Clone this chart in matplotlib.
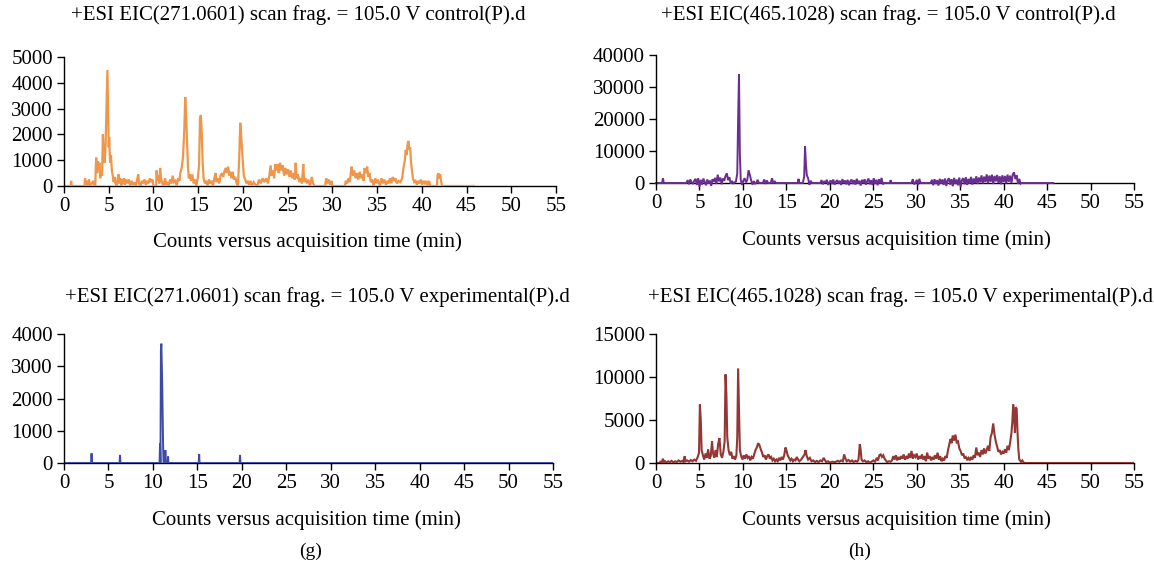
import matplotlib
matplotlib.use('Agg')
import matplotlib.pyplot as plt
import numpy as np

plt.rcParams['font.family'] = ['Liberation Serif', 'DejaVu Serif']

# (g) control, EIC 271.0601 -- (time min, counts)
g_control = [
    (0, 0), (0.75, 0), (0.8, 200), (0.85, 0), (2.3, 0), (2.35, 300), (2.45, 50), (2.55, 200),
    (2.65, 0), (2.8, 250), (2.9, 0), (3.3, 200), (3.35, 0), (3.5, 0), (3.55, 700), (3.6, 1100),
    (3.7, 500), (3.8, 950), (3.9, 600), (3.95, 900), (4.05, 300), (4.15, 600), (4.25, 400),
    (4.35, 2000), (4.45, 1200), (4.55, 900), (4.65, 1600), (4.75, 3000), (4.85, 4500),
    (4.95, 2500), (5.0, 1500), (5.05, 1900), (5.15, 900), (5.25, 1200), (5.35, 600), (5.45, 400),
    (5.55, 150), (5.65, 350), (5.75, 100), (5.9, 0), (6.0, 300), (6.1, 450), (6.2, 100),
    (6.3, 300), (6.4, 0), (6.5, 250), (6.6, 100), (6.7, 300), (6.8, 50), (6.95, 250), (7.1, 100),
    (7.25, 250), (7.4, 0), (7.55, 200), (7.7, 50), (7.85, 150), (8.0, 0), (8.15, 200), (8.3, 450),
    (8.4, 100), (8.55, 0), (8.7, 200), (8.85, 100), (9.0, 250), (9.15, 50), (9.3, 200),
    (9.45, 100), (9.6, 300), (9.75, 150), (9.9, 250), (10.0, 0), (10.3, 0), (10.35, 600),
    (10.45, 200), (10.55, 400), (10.65, 100), (10.75, 700), (10.85, 300), (10.95, 150),
    (11.1, 0), (11.3, 300), (11.4, 50), (11.55, 150), (11.7, 0), (11.85, 250), (12.0, 100),
    (12.15, 400), (12.3, 150), (12.45, 200), (12.6, 0), (12.75, 300), (12.9, 200), (13.0, 500),
    (13.15, 700), (13.3, 1100), (13.45, 2200), (13.55, 3450), (13.65, 2800), (13.75, 1800),
    (13.85, 800), (13.95, 300), (14.05, 450), (14.2, 200), (14.35, 450), (14.5, 100),
    (14.65, 250), (14.8, 0), (14.95, 300), (15.1, 800), (15.2, 2600), (15.3, 2750), (15.4, 2000),
    (15.5, 900), (15.6, 300), (15.75, 100), (15.9, 200), (16.05, 0), (16.2, 250), (16.35, 100),
    (16.5, 200), (16.65, 0), (16.8, 300), (16.95, 500), (17.05, 150), (17.2, 300), (17.35, 100),
    (17.5, 400), (17.65, 500), (17.8, 350), (17.95, 600), (18.1, 700), (18.2, 500), (18.35, 750),
    (18.5, 400), (18.6, 550), (18.75, 300), (18.85, 550), (19.0, 250), (19.15, 350), (19.3, 100),
    (19.45, 0), (19.6, 1200), (19.7, 2450), (19.8, 2000), (19.9, 1400), (20.0, 900), (20.1, 400),
    (20.25, 250), (20.4, 100), (20.55, 200), (20.7, 50), (20.85, 200), (21.0, 0), (21.2, 150),
    (21.4, 50), (21.6, 0), (21.8, 250), (22.0, 100), (22.2, 300), (22.4, 150), (22.6, 300),
    (22.8, 100), (22.95, 400), (23.1, 800), (23.2, 400), (23.35, 600), (23.5, 300), (23.6, 850),
    (23.75, 600), (23.9, 850), (24.0, 500), (24.15, 900), (24.3, 600), (24.45, 800), (24.6, 400),
    (24.75, 700), (24.9, 450), (25.05, 650), (25.2, 350), (25.35, 600), (25.5, 300), (25.65, 500),
    (25.8, 250), (25.9, 900), (26.0, 300), (26.15, 450), (26.3, 150), (26.45, 300), (26.6, 100),
    (26.75, 850), (26.85, 150), (27.0, 300), (27.15, 100), (27.3, 250), (27.5, 0), (27.7, 350),
    (27.85, 100), (28.0, 0), (29.2, 0), (29.3, 300), (29.45, 100), (29.6, 250), (29.75, 50),
    (29.9, 200), (30.0, 0), (31.4, 0), (31.5, 200), (31.65, 100), (31.8, 300), (31.95, 150),
    (32.05, 500), (32.15, 750), (32.3, 400), (32.45, 600), (32.6, 300), (32.75, 500), (32.9, 250),
    (33.05, 550), (33.2, 300), (33.35, 450), (33.5, 200), (33.6, 700), (33.75, 500), (33.9, 750),
    (34.0, 350), (34.15, 500), (34.3, 150), (34.45, 250), (34.6, 0), (34.8, 300), (34.95, 100),
    (35.1, 250), (35.3, 0), (35.5, 300), (35.65, 100), (35.8, 250), (36.0, 50), (36.15, 200),
    (36.3, 100), (36.45, 300), (36.6, 100), (36.75, 350), (36.9, 200), (37.05, 300), (37.2, 100),
    (37.4, 200), (37.6, 150), (37.8, 300), (37.95, 700), (38.1, 1000), (38.2, 1400), (38.3, 1200),
    (38.4, 1600), (38.5, 1750), (38.6, 1400), (38.7, 1500), (38.8, 900), (38.9, 600), (39.0, 300),
    (39.15, 150), (39.3, 200), (39.45, 50), (39.6, 200), (39.75, 100), (39.9, 250), (40.05, 50),
    (40.2, 200), (40.35, 100), (40.5, 200), (40.65, 0), (40.8, 200), (40.95, 0), (41.7, 0),
    (41.75, 400), (41.85, 500), (41.95, 300), (42.05, 450), (42.15, 200), (42.25, 0), (45.8, 0),
]

# (h) control, EIC 465.1028
h_control = [
    (0, 0), (0.7, 0), (0.8, 1500), (0.9, 0), (3.5, 0),
    (3.65, 900), (3.8, -400), (3.95, 1100), (4.1, 200), (4.25, -300), (4.4, 700), (4.55, 1300),
    (4.7, -600), (4.85, 1500), (5.0, -1200), (5.15, 1000), (5.3, -500), (5.45, 1400), (5.6, 300),
    (5.75, -700), (5.9, 1100), (6.05, -200), (6.2, 800), (6.35, -900), (6.5, 1200), (6.65, 400),
    (6.8, 1600), (6.95, -300), (7.1, 2600), (7.25, 500), (7.4, 1700), (7.55, -400), (7.7, 1400),
    (7.85, 700), (8.0, 2200), (8.15, 3000), (8.3, 900), (8.45, 1800), (8.6, -200), (8.75, 600),
    (8.9, -100), (9.05, 200), (9.2, 500), (9.35, 3000), (9.45, 20000), (9.55, 34000),
    (9.65, 9000), (9.75, 1000), (9.9, -600), (10.05, 800), (10.2, 1500), (10.35, 200),
    (10.5, 900), (10.65, 4000), (10.8, 2500), (10.95, 800), (11.1, -500), (11.25, 600),
    (11.4, -200), (11.55, 0), (11.7, 1000), (11.85, 0), (12.3, 0), (12.45, 1100), (12.6, -300),
    (12.75, 800), (12.9, 0), (13.2, 0), (13.35, 1500), (13.5, -200), (13.65, 600), (13.8, 0),
    (16.3, 0), (16.4, 1300), (16.5, 0), (16.9, 0), (17.05, 2000), (17.15, 11500), (17.25, 6000),
    (17.35, 2500), (17.5, 1500), (17.65, -600), (17.8, 700), (17.95, 0), (18.9, 0),
    (19.05, 900), (19.2, -400), (19.35, 600), (19.5, 0), (19.65, 1000), (19.8, -600),
    (19.95, 300), (20.1, 800), (20.25, -300), (20.4, 1100), (20.55, -500), (20.7, 400),
    (20.85, 900), (21.0, -200), (21.15, 700), (21.3, -600), (21.45, 1200), (21.6, -100),
    (21.75, 800), (21.9, -400), (22.05, 1000), (22.2, -700), (22.35, 500), (22.5, 1100),
    (22.65, -300), (22.8, 900), (22.95, -500), (23.1, 1300), (23.25, -200), (23.4, 700),
    (23.55, -800), (23.7, 1000), (23.85, -100), (24.0, 1200), (24.15, -500), (24.3, 600),
    (24.45, 1400), (24.6, -400), (24.75, 900), (24.9, -600), (25.05, 1500), (25.2, -300),
    (25.35, 1000), (25.5, -700), (25.65, 1200), (25.8, -200), (25.95, 1600), (26.1, -400),
    (26.25, 0), (26.9, 0), (27.0, 900), (27.1, 0), (29.4, 0), (29.55, 1200), (29.7, -400),
    (29.85, 0), (30.0, 1000), (30.15, -600), (30.3, 1300), (30.45, 0), (31.6, 0),
    (31.75, 1000), (31.9, -700), (32.05, 1200), (32.2, -300), (32.35, 900), (32.5, -800),
    (32.65, 1300), (32.8, -200), (32.95, 1100), (33.1, -600), (33.25, 1400), (33.4, -900),
    (33.55, 800), (33.7, 1500), (33.85, -500), (34.0, 1200), (34.15, -1000), (34.3, 1600),
    (34.45, -300), (34.6, 1100), (34.75, -700), (34.9, 1700), (35.05, -1200), (35.2, 900),
    (35.35, 1500), (35.5, -400), (35.65, 1800), (35.8, -600), (35.95, 1300), (36.1, -200),
    (36.25, 1900), (36.4, -500), (36.55, 1400), (36.7, -100), (36.85, 2100), (37.0, -300),
    (37.15, 1700), (37.3, 200), (37.45, 2400), (37.6, -200), (37.75, 2000), (37.9, 300),
    (38.05, 2700), (38.2, -100), (38.35, 2300), (38.5, 400), (38.65, 2600), (38.8, -300),
    (38.95, 2200), (39.1, 500), (39.25, 2500), (39.4, 0), (39.55, 2100), (39.7, -400),
    (39.85, 2400), (40.0, 300), (40.15, 2200), (40.3, -200), (40.45, 2600), (40.6, 400),
    (40.75, 2300), (40.9, -100), (41.05, 2700), (41.2, 3300), (41.35, 1200), (41.5, 2400),
    (41.65, -300), (41.8, 1300), (41.95, -200), (42.05, 0), (45.7, 0),
]

# (g) experimental, EIC 271.0601
g_experimental = [
    (0, 0), (3.05, 0), (3.1, 300), (3.15, 0), (6.25, 0), (6.3, 250), (6.35, 0), (10.75, 0),
    (10.8, 600), (10.85, 0), (10.9, 3500), (10.95, 3700), (11.05, 2400), (11.15, 500),
    (11.2, 0), (11.35, 0), (11.4, 400), (11.45, 0), (11.65, 0), (11.7, 200), (11.75, 0),
    (15.15, 0), (15.2, 280), (15.25, 0), (19.75, 0), (19.8, 250), (19.85, 0), (55, 0),
]

# (h) experimental, EIC 465.1028
h_experimental = [
    (0, 0), (0.4, 0), (0.5, 150), (0.65, 50), (0.8, 500), (0.9, 100), (1.05, 200), (1.2, 50),
    (1.4, 200), (1.6, 100), (1.8, 250), (2.0, 50), (2.2, 200), (2.4, 100), (2.6, 300), (2.8, 150),
    (3.0, 250), (3.15, 100), (3.3, 800), (3.4, 200), (3.6, 300), (3.8, 150), (4.0, 350),
    (4.2, 200), (4.4, 400), (4.6, 250), (4.8, 700), (4.95, 1200), (5.05, 6800), (5.15, 5000),
    (5.25, 1500), (5.4, 900), (5.55, 400), (5.7, 1100), (5.85, 600), (6.0, 1600), (6.15, 500),
    (6.3, 800), (6.45, 2500), (6.55, 1200), (6.7, 600), (6.85, 1500), (7.0, 700), (7.15, 2200),
    (7.3, 2900), (7.45, 1000), (7.6, 600), (7.75, 1300), (7.9, 2500), (8.0, 10300), (8.1, 8000),
    (8.2, 3000), (8.35, 1500), (8.5, 900), (8.65, 1300), (8.8, 500), (8.95, 800), (9.1, 400),
    (9.25, 900), (9.35, 3000), (9.45, 11000), (9.55, 6000), (9.65, 1500), (9.8, 800),
    (9.95, 400), (10.1, 900), (10.25, 500), (10.4, 1000), (10.55, 600), (10.7, 800),
    (10.85, 300), (11.0, 700), (11.15, 500), (11.3, 1000), (11.45, 1500), (11.6, 1800),
    (11.75, 2300), (11.9, 2100), (12.05, 1600), (12.2, 1200), (12.35, 700), (12.5, 900),
    (12.65, 400), (12.8, 800), (12.95, 1000), (13.1, 500), (13.25, 700), (13.4, 300),
    (13.55, 500), (13.7, 200), (13.85, 400), (14.0, 200), (14.15, 600), (14.3, 300),
    (14.45, 700), (14.6, 400), (14.75, 900), (14.9, 1800), (15.0, 1500), (15.15, 900),
    (15.3, 600), (15.45, 300), (15.6, 500), (15.75, 200), (15.9, 400), (16.05, 300),
    (16.2, 700), (16.35, 400), (16.5, 200), (16.7, 400), (16.9, 700), (17.1, 1000), (17.2, 1500),
    (17.35, 800), (17.5, 400), (17.7, 600), (17.9, 200), (18.1, 300), (18.3, 100), (18.5, 250),
    (18.7, 100), (18.9, 300), (19.1, 200), (19.3, 600), (19.45, 300), (19.6, 100), (19.8, 200),
    (20.0, 50), (20.3, 150), (20.6, 100), (20.9, 250), (21.1, 150), (21.3, 300), (21.5, 200),
    (21.65, 1000), (21.8, 500), (21.95, 200), (22.15, 350), (22.35, 150), (22.55, 300),
    (22.75, 100), (22.95, 250), (23.15, 150), (23.3, 400), (23.45, 2200), (23.55, 1500),
    (23.65, 400), (23.8, 200), (24.0, 300), (24.2, 100), (24.4, 200), (24.6, 50), (24.8, 150),
    (25.0, 300), (25.2, 150), (25.4, 600), (25.55, 300), (25.7, 900), (25.85, 1000),
    (26.0, 700), (26.15, 900), (26.3, 500), (26.45, 300), (26.6, 100), (26.8, 200), (27.0, 150),
    (27.15, 300), (27.3, 800), (27.45, 400), (27.6, 900), (27.75, 300), (27.9, 700),
    (28.05, 400), (28.2, 800), (28.35, 500), (28.5, 1000), (28.65, 400), (28.8, 700),
    (28.95, 500), (29.1, 1100), (29.25, 600), (29.4, 1400), (29.55, 500), (29.7, 900),
    (29.85, 700), (30.0, 1100), (30.15, 400), (30.3, 800), (30.45, 500), (30.6, 1000),
    (30.75, 400), (30.9, 800), (31.05, 200), (31.2, 1200), (31.35, 500), (31.5, 800),
    (31.65, 300), (31.8, 700), (31.95, 400), (32.1, 900), (32.25, 500), (32.4, 1200),
    (32.55, 400), (32.7, 800), (32.85, 200), (33.0, 500), (33.15, 300), (33.3, 800),
    (33.45, 600), (33.6, 1500), (33.75, 2200), (33.9, 2800), (34.0, 2300), (34.15, 3200),
    (34.3, 2600), (34.45, 3300), (34.6, 2400), (34.75, 2500), (34.9, 1700), (35.05, 1400),
    (35.2, 900), (35.35, 1100), (35.5, 600), (35.65, 700), (35.8, 400), (35.95, 600),
    (36.1, 300), (36.25, 700), (36.4, 400), (36.55, 900), (36.7, 600), (36.85, 1800),
    (37.0, 900), (37.15, 1200), (37.3, 700), (37.45, 1500), (37.6, 1000), (37.75, 1700),
    (37.9, 1100), (38.05, 1500), (38.2, 2000), (38.35, 1400), (38.5, 3000), (38.65, 3500),
    (38.8, 4600), (38.95, 3300), (39.1, 2500), (39.25, 1900), (39.4, 1300), (39.55, 1500),
    (39.7, 1000), (39.85, 1300), (40.0, 1100), (40.15, 1600), (40.3, 1200), (40.45, 2000),
    (40.6, 1500), (40.75, 2400), (40.9, 3500), (41.0, 4800), (41.1, 6800), (41.2, 5500),
    (41.3, 3500), (41.4, 6500), (41.5, 6300), (41.6, 3500), (41.7, 1500), (41.8, 400),
    (41.9, 300), (42.0, 100), (42.15, 300), (42.3, 50), (42.5, 0), (55, 0),
]

titles = [
    '+ESI EIC(271.0601) scan frag. = 105.0 V control(P).d',
    '+ESI EIC(465.1028) scan frag. = 105.0 V control(P).d',
    '+ESI EIC(271.0601) scan frag. = 105.0 V experimental(P).d',
    '+ESI EIC(465.1028) scan frag. = 105.0 V experimental(P).d',
]
xlabel = 'Counts versus acquisition time (min)'
x_ticks = list(range(0, 56, 5))
y_ticks = [
    [0, 1000, 2000, 3000, 4000, 5000],
    [0, 10000, 20000, 30000, 40000],
    [0, 1000, 2000, 3000, 4000],
    [0, 5000, 10000, 15000],
]
panel_labels = ['(g)', '(h)']

W, H = 1154, 571
fig = plt.figure(figsize=(W / 100, H / 100), dpi=100)


def px_axes(x0, x1, ytop, ybot):
    return fig.add_axes([x0 / W, 1 - ybot / H, (x1 - x0) / W, (ybot - ytop) / H])


# pixel boxes: (left, right, top, bottom)
boxes = [(64, 556, 57, 186), (656, 1134, 55, 183), (64, 553, 334, 463), (656, 1134, 334, 463)]
series = [g_control, h_control, g_experimental, h_experimental]
colors = ['#F0964A', '#6B2D91', '#3B4BA6', '#943634']
widths = [1.6, 1.4, 1.4, 1.5]
clip = [True, False, True, True]  # purple noise dips below the baseline
title_pos = [(298, 15), (888, 15), (317, 297), (900, 297)]
xlabel_pos = [(307, 242), (896, 240), (306, 520), (896, 520)]

fs = 15
for i in range(4):
    ax = px_axes(*boxes[i])
    t, y = np.array(series[i]).T
    ax.plot(t, y, color=colors[i], lw=widths[i], solid_joinstyle='miter', clip_on=clip[i])
    ax.set_xlim(0, 55)
    ax.set_ylim(y_ticks[i][0], y_ticks[i][-1])
    ax.set_xticks(x_ticks)
    ax.set_yticks(y_ticks[i])
    ax.tick_params(labelsize=fs, length=5, width=1, direction='out', pad=3)
    for s in ['top', 'right']:
        ax.spines[s].set_visible(False)
    ax.spines['left'].set_linewidth(1)
    ax.spines['bottom'].set_linewidth(1)
    ax.spines['bottom'].set_zorder(0)
    ax.patch.set_alpha(0)
    fig.text(title_pos[i][0] / W, 1 - title_pos[i][1] / H, titles[i],
             ha='center', va='center', fontsize=fs)
    fig.text(xlabel_pos[i][0] / W, 1 - xlabel_pos[i][1] / H, xlabel,
             ha='center', va='center', fontsize=fs)

fig.text(311 / W, 1 - 551 / H, panel_labels[0], ha='center', va='center', fontsize=fs - 1)
fig.text(860 / W, 1 - 551 / H, panel_labels[1], ha='center', va='center', fontsize=fs - 1)

fig.savefig('out.png', dpi=100)
